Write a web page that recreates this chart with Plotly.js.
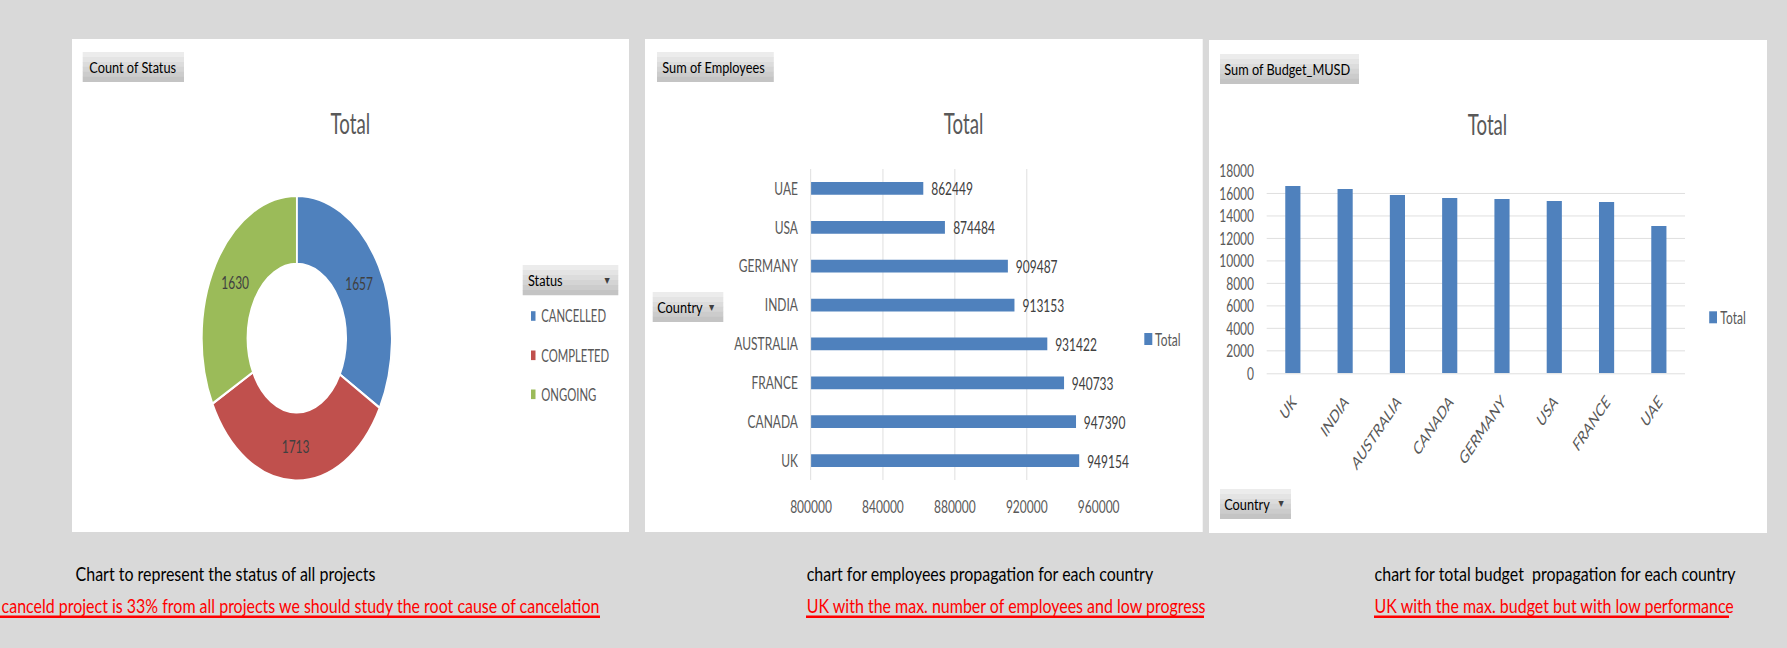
<!DOCTYPE html>
<html>
<head>
<meta charset="utf-8">
<script src="https://cdn.plot.ly/plotly-3.0.1.min.js"></script>
<style>
  html, body { margin:0; padding:0; background:#d9d9d9; overflow:hidden; width:1787px; height:648px; }
  #wrapA { position:absolute; left:0; top:0; transform-origin:0 0; }
  #wrapB { position:absolute; left:0; top:0; transform-origin:0 0; pointer-events:none; }
</style>
</head>
<body>
<div id="wrapA"><div id="chartA"></div></div>
<div id="wrapB"><div id="chartB"></div></div>
<script>
// ---------------- data ----------------
const statusLabels = ['CANCELLED', 'COMPLETED', 'ONGOING'];
const statusCounts = [1657, 1713, 1630];

const empCountries = ['UK', 'CANADA', 'FRANCE', 'AUSTRALIA', 'INDIA', 'GERMANY', 'USA', 'UAE'];
const empValues    = [949154, 947390, 940733, 931422, 913153, 909487, 874484, 862449];
const empTicks     = [800000, 840000, 880000, 920000, 960000];

const budCountries = ['UK', 'INDIA', 'AUSTRALIA', 'CANADA', 'GERMANY', 'USA', 'FRANCE', 'UAE'];
const budValues    = [16670, 16400, 15870, 15600, 15510, 15330, 15240, 13110];
const budTicks     = [0, 2000, 4000, 6000, 8000, 10000, 12000, 14000, 16000, 18000];

const seriesName   = 'Total';
const fieldButtons = ['Count of Status', 'Sum of Employees', 'Sum of Budget_MUSD'];
const axisButtons  = ['Status', 'Country', 'Country'];
const noteTitles   = ['Chart to represent the status of all projects',
                      'chart for employees propagation for each country',
                      'chart for total budget  propagation for each country'];
const noteFindings = ['canceld project is 33% from all projects we should study the root cause of cancelation',
                      'UK with the max. number of employees and low progress',
                      'UK with the max. budget but with low performance'];

// ---------------- layout helpers ----------------
const REF_W = 1787, H = 648;
const W_A = 2681, SA = REF_W / W_A;   // chart layer (horizontally squeezed like the original)
const W_B = 2102, SB = REF_W / W_B;   // text layer
const PX = x => x / REF_W;
const PY = y => 1 - y / H;
const FONT = 'Lato, "Open Sans", "DejaVu Sans", sans-serif';
const BLUE = '#4f81bd', RED = '#c0504d', GREEN = '#9bbb59';
const GRID = '#d9d9d9', TICK = '#595959', LBL = '#404040';

document.getElementById('wrapA').style.transform = 'scaleX(' + SA + ')';
document.getElementById('wrapB').style.transform = 'scaleX(' + SB + ')';

function rect(x0, y0, x1, y1, color) {
  return {type:'rect', xref:'paper', yref:'paper', x0:PX(x0), x1:PX(x1), y0:PY(y1), y1:PY(y0),
          fillcolor:color, line:{width:0}, layer:'below'};
}
function button(x0, y0, x1, y1) {
  const cols = ['#ececec', '#e4e4e4', '#dcdcdc', '#d4d4d4', '#cccccc', '#c4c4c4'];
  const n = cols.length, h = (y1 - y0) / n;
  return cols.map((c, i) => rect(x0, y0 + i * h, x1, y0 + (i + 1) * h + 0.3, c));
}
function ann(x, y, text, size, color, opts) {
  return Object.assign({xref:'paper', yref:'paper', x:PX(x), y:PY(y), text:text, showarrow:false,
          xanchor:'left', yanchor:'middle', font:{family:FONT, size:size, color:color}}, opts || {});
}

// ---------------- chart layer ----------------
const shapesA = [
  rect(72, 39, 629, 532, '#ffffff'),
  rect(645, 39, 1202.7, 532, '#ffffff'),
  rect(1209, 40, 1767, 533, '#ffffff'),
  ...button(82.7, 52, 184, 81.7),
  ...button(657, 52, 773.8, 81.7),
  ...button(1220, 54, 1359, 83.7),
  ...button(522.7, 265, 618.3, 295),
  ...button(652.7, 292, 723.3, 321.7),
  ...button(1220, 489, 1291, 518.7)
];
// manual legend keys
const pieColors = [BLUE, RED, GREEN];
const pieLegendY = [316, 355.3, 394.3];
statusLabels.forEach((l, i) => {
  const s = rect(531, pieLegendY[i] - 4.8, 535.5, pieLegendY[i] + 4.8, pieColors[i]);
  s.layer = 'above';
  shapesA.push(s);
});
const k2 = rect(1144.3, 333, 1152.3, 345, BLUE); k2.layer = 'above'; shapesA.push(k2);
const k3 = rect(1709.2, 311.3, 1717, 323.3, BLUE); k3.layer = 'above'; shapesA.push(k3);

const annA = [
  ann(350, 122.5, 'Total', 28, TICK, {xanchor:'center'}),
  ann(963.7, 122.5, 'Total', 28, TICK, {xanchor:'center'}),
  ann(1487.3, 124, 'Total', 28, TICK, {xanchor:'center'})
];
statusLabels.forEach((l, i) => annA.push(ann(540, pieLegendY[i], l, 17, TICK)));
annA.push(ann(1154, 338.5, seriesName, 18, TICK));
annA.push(ann(1719, 317.3, seriesName, 18, TICK));
// data labels of the horizontal bar chart
empCountries.forEach((c, i) => annA.push({
  xref:'x', yref:'y', x:empValues[i], y:c, text:String(empValues[i]), showarrow:false,
  xanchor:'left', yanchor:'middle', xshift:10, font:{family:FONT, size:18, color:LBL}
}));

const tickFont = {family:FONT, size:18, color:TICK};
const tracesA = [
  {
    type:'pie', labels:statusLabels, values:statusCounts, hole:0.52, sort:false,
    direction:'clockwise', rotation:0,
    domain:{x:[PX(186.8), PX(406.8)], y:[PY(480.7), PY(195.7)]},
    marker:{colors:pieColors, line:{color:'#ffffff', width:2.5}},
    textinfo:'value', textposition:'inside', insidetextorientation:'horizontal',
    textfont:{family:FONT, size:18, color:LBL}, showlegend:false
  },
  {
    type:'bar', orientation:'h', name:seriesName, x:empValues, y:empCountries,
    xaxis:'x', yaxis:'y', width:0.33, marker:{color:BLUE}, showlegend:false
  },
  {
    type:'bar', name:seriesName, x:budCountries, y:budValues,
    xaxis:'x2', yaxis:'y2', width:0.29, marker:{color:BLUE}, showlegend:false
  }
];

const layoutA = {
  width:W_A, height:H, margin:{l:0, r:0, t:0, b:0, pad:0},
  paper_bgcolor:'#d9d9d9', plot_bgcolor:'rgba(0,0,0,0)', showlegend:false,
  font:{family:FONT, color:TICK},
  xaxis:{domain:[PX(811), PX(1098.7)], anchor:'y', range:[800000, 960000.5],
         tickvals:empTicks, ticktext:empTicks.map(String), showgrid:true, gridcolor:GRID, gridwidth:1,
         zeroline:false, showline:false, ticks:'', tickfont:tickFont, ticklabelstandoff:14, fixedrange:true},
  yaxis:{domain:[PY(480), PY(169)], anchor:'x', type:'category', showgrid:false,
         showline:true, linecolor:GRID, linewidth:1, zeroline:false, ticks:'',
         tickfont:tickFont, ticklabelstandoff:15, fixedrange:true},
  xaxis2:{domain:[PX(1266.7), PX(1685)], anchor:'y2', type:'category', tickangle:-45,
          showgrid:false, showline:true, linecolor:GRID, linewidth:1, zeroline:false, ticks:'',
          tickfont:tickFont, ticklabelstandoff:10, fixedrange:true},
  yaxis2:{domain:[PY(373.3), PY(171)], anchor:'x2', range:[0, 18000.5],
          tickvals:budTicks, ticktext:budTicks.map(String), showgrid:true, gridcolor:GRID, gridwidth:1,
          zeroline:false, showline:false, ticks:'', tickfont:tickFont, ticklabelstandoff:18, fixedrange:true},
  shapes:shapesA,
  annotations:annA
};

Plotly.newPlot('chartA', tracesA, layoutA, {staticPlot:true, displayModeBar:false});

// ---------------- text layer (buttons + notes) ----------------
const BTN = 15, NOTE = 18.8;
const annB = [
  ann(87.5, 67, fieldButtons[0], BTN, '#000000'),
  ann(660.5, 67, fieldButtons[1], BTN, '#000000'),
  ann(1222.5, 69, fieldButtons[2], BTN, '#000000'),
  ann(526.5, 280, axisButtons[0], BTN, '#000000'),
  ann(655.5, 307, axisButtons[1], BTN, '#000000'),
  ann(1222.5, 504, axisButtons[2], BTN, '#000000'),
  ann(607.3, 279.5, '▼', 8, '#404040', {xanchor:'center'}),
  ann(712.3, 306.5, '▼', 8, '#404040', {xanchor:'center'}),
  ann(1281.7, 503.5, '▼', 8, '#404040', {xanchor:'center'}),
  ann(74, 573, noteTitles[0], NOTE, '#000000'),
  ann(805, 573, noteTitles[1], NOTE, '#000000'),
  ann(1373, 573, noteTitles[2], NOTE, '#000000'),
  ann(0, 605.7, noteFindings[0], NOTE, '#ff0000'),
  ann(805, 605.7, noteFindings[1], NOTE, '#ff0000'),
  ann(1373, 605.7, noteFindings[2], NOTE, '#ff0000')
];
function uline(x0, x1, y) {
  return {type:'line', xref:'paper', yref:'paper', x0:PX(x0), x1:PX(x1), y0:PY(y), y1:PY(y),
          line:{color:'#ff0000', width:2.5}};
}
const layoutB = {
  width:W_B, height:H, margin:{l:0, r:0, t:0, b:0, pad:0},
  paper_bgcolor:'rgba(0,0,0,0)', plot_bgcolor:'rgba(0,0,0,0)', showlegend:false,
  xaxis:{visible:false, range:[0, 1], fixedrange:true},
  yaxis:{visible:false, range:[0, 1], fixedrange:true},
  shapes:[uline(0, 600, 616.7), uline(806, 1204, 616.7), uline(1374, 1729, 616.7)],
  annotations:annB
};
Plotly.newPlot('chartB', [], layoutB, {staticPlot:true, displayModeBar:false});
</script>
</body>
</html>
